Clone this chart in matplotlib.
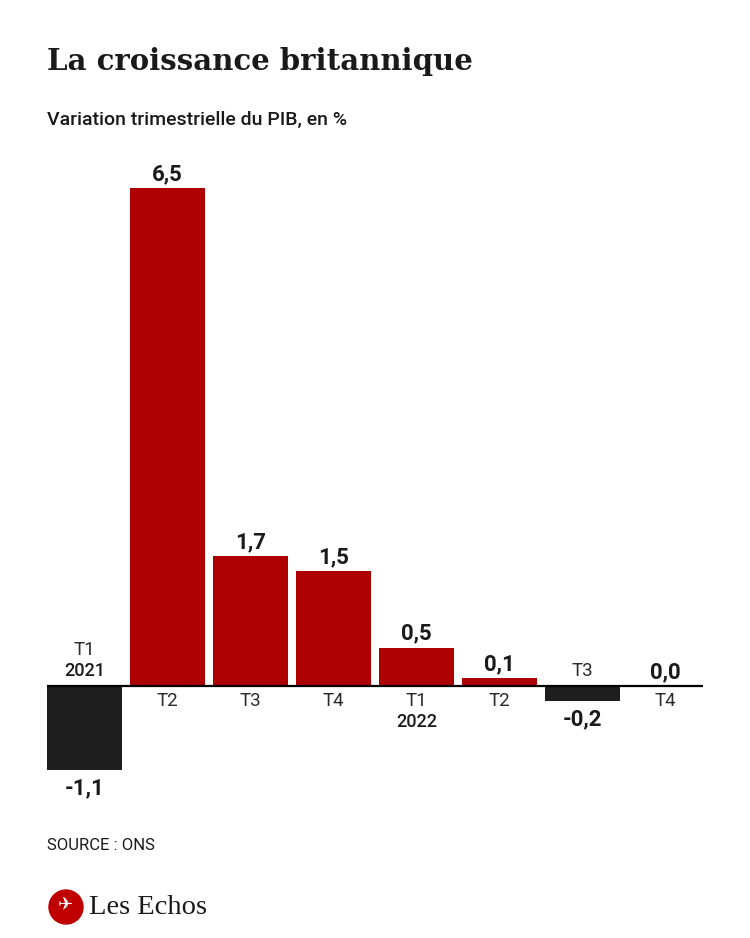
import matplotlib
matplotlib.use("Agg")
import matplotlib.pyplot as plt
from matplotlib.patches import Circle

quarters = ["T1", "T2", "T3", "T4", "T1", "T2", "T3", "T4"]
years = ["2021", "", "", "", "2022", "", "", ""]
values = [-1.1, 6.5, 1.7, 1.5, 0.5, 0.1, -0.2, 0.0]
value_labels = ["-1,1", "6,5", "1,7", "1,5", "0,5", "0,1", "-0,2", "0,0"]

RED = "#ae0000"
DARK = "#1e1e1e"
SANS = ["Roboto", "DejaVu Sans"]

fig = plt.figure(figsize=(7.5, 9.38), dpi=100)
ax = fig.add_axes([47/750, 1-800/938, 656/750, 650/938])
x = list(range(len(values)))
colors = [RED if v > 0 else DARK for v in values]
ax.bar(x, values, width=0.9, color=colors, zorder=2)
ax.axhline(0, color="black", lw=1.6, zorder=3)
ax.set_xlim(-0.45, 7.45)
ax.set_ylim(-1.488, 7.0)
ax.axis("off")

px = 0.72  # points per pixel
VFS, CFS, YFS = 16, 13.5, 13
for i, (v, q, yr, lab) in enumerate(zip(values, quarters, years, value_labels)):
    if v >= 0:
        ax.annotate(lab, (i, v), xytext=(0, 3*px), textcoords="offset points",
                    ha="center", va="bottom", fontsize=VFS, fontweight="bold",
                    family=SANS, color="#1a1a1a")
        ax.annotate(q, (i, 0), xytext=(0, -6*px), textcoords="offset points",
                    ha="center", va="top", fontsize=CFS, fontweight="normal",
                    family=SANS, color="#2a2a2a")
        if yr:
            ax.annotate(yr, (i, 0), xytext=(0, -27*px), textcoords="offset points",
                        ha="center", va="top", fontsize=YFS, fontweight="medium",
                        family=SANS, color="#1a1a1a")
    else:
        ax.annotate(lab, (i, v), xytext=(0, -7*px), textcoords="offset points",
                    ha="center", va="top", fontsize=VFS, fontweight="bold",
                    family=SANS, color="#1a1a1a")
        if yr:
            ax.annotate(yr, (i, 0), xytext=(0, 6*px), textcoords="offset points",
                        ha="center", va="bottom", fontsize=YFS, fontweight="medium",
                        family=SANS, color="#1a1a1a")
            ax.annotate(q, (i, 0), xytext=(0, 27*px), textcoords="offset points",
                        ha="center", va="bottom", fontsize=CFS, fontweight="normal",
                        family=SANS, color="#2a2a2a")
        else:
            ax.annotate(q, (i, 0), xytext=(0, 6*px), textcoords="offset points",
                        ha="center", va="bottom", fontsize=CFS, fontweight="normal",
                        family=SANS, color="#2a2a2a")

fig.text(47/750, 1-61/938, "La croissance britannique", ha="left", va="center",
         fontsize=21, fontweight="bold", family=["DejaVu Serif"], color="#1a1a1a")
fig.text(47/750, 1-120/938, "Variation trimestrielle du PIB, en %", ha="left", va="center",
         fontsize=14, fontweight="medium", family=SANS, color="#1a1a1a")
fig.text(47/750, 1-845/938, "SOURCE : ONS", ha="left", va="center",
         fontsize=12, family=SANS, color="#1a1a1a")

# logo
lax = fig.add_axes([0, 0, 1, 1], zorder=5)
lax.set_xlim(0, 750); lax.set_ylim(938, 0); lax.axis("off")
lax.add_patch(Circle((66, 907), 17, color="#c00000"))
lax.text(66, 906, "✈", ha="center", va="center", fontsize=13, color="white", family=["DejaVu Sans"])
lax.text(89, 908, "Les Echos", ha="left", va="center", fontsize=20.5,
         family=["Liberation Serif"], color="#1a1a1a")

fig.savefig("out.png", dpi=100, facecolor="white")
